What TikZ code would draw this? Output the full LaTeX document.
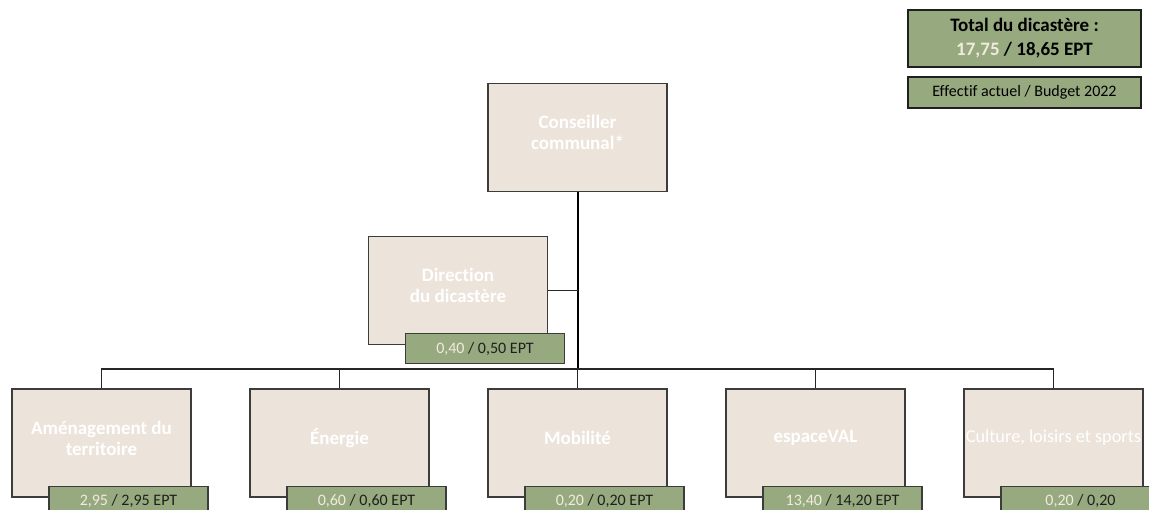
\documentclass[tikz,border=0pt]{standalone}
\usepackage{fontspec}
\setmainfont{Carlito}[Ligatures=NoCommon]
\usetikzlibrary{positioning}
\definecolor{beige}{HTML}{ECE3DA}
\definecolor{eptgreen}{HTML}{97A97E}
\definecolor{cream}{HTML}{F1EBDF}
\definecolor{boxline}{HTML}{3C3C3C}

\begin{document}
\begin{tikzpicture}[
x=1pt,y=-1pt,
unit/.style={
  draw=boxline,
  fill=beige,
  line width=1.2pt,
  minimum width=179pt,
  minimum height=108pt,
  label={[unittext]center:#1}
},
unittext/.style={
  yshift=5pt,
  align=center,
  text=white,
  font=\fontsize{19}{21}\selectfont\bfseries
},
ept/.style={
  draw=boxline,
  fill=eptgreen,
  line width=1.2pt,
  minimum width=159pt,
  minimum height=30pt,
  inner sep=0pt,
  anchor=north,
  text=black!88,
  font=\fontsize{16}{18}\selectfont
},
total/.style={
  draw=black!88,
  fill=eptgreen,
  line width=1.3pt,
  minimum width=233pt,
  minimum height=57pt,
  inner sep=0pt,
  align=center,
  font=\fontsize{19}{24}\selectfont\bfseries
},
link/.style={draw=black!85, line width=1.3pt},
trunk/.style={draw=black, line width=2pt},
node distance=57.8pt
]
\useasboundingbox (0,0) rectangle (1149,510);

% summary top right
\node[total] (total) at (1024.5,38.5)
  {Total du dicastère :\\{\color{cream}17,75} / 18,65 EPT};
\node[total,minimum height=31pt,font=\fontsize{16}{18}\selectfont] (legend) at (1024.5,92.5)
  {Effectif actuel / Budget 2022};

% units
\node[unit={Conseiller\\communal*}] (cons) at (577.5,137.5) {};
\node[unit={Direction\\du dicastère}] (dir) at (458,290.5) {};
\node[unit={Mobilité}] (mobil) at (577.5,443) {};
\node[unit={Énergie},left=of mobil] (ener) {};
\node[unit={Aménagement du\\territoire},left=of ener] (amen) {};
\node[unit={espaceVAL},right=of mobil] (espace) {};
\node[unit={\mdseries\fontsize{18.3}{21}\selectfont Culture, loisirs et sports},right=of espace] (cult) {};

% EPT
\node[ept] (dir-ept) at ([xshift=27pt,yshift=12pt]dir.south)
  {{\color{cream}0,40} / 0,50 EPT};
\node[ept] (amen-ept) at ([xshift=27pt,yshift=12pt]amen.south)
  {{\color{cream}2,95} / 2,95 EPT};
\node[ept] (ener-ept) at ([xshift=27pt,yshift=12pt]ener.south)
  {{\color{cream}0,60} / 0,60 EPT};
\node[ept] (mobil-ept) at ([xshift=27pt,yshift=12pt]mobil.south)
  {{\color{cream}0,20} / 0,20 EPT};
\node[ept] (espace-ept) at ([xshift=27pt,yshift=12pt]espace.south)
  {{\color{cream}13,40} / 14,20 EPT};
\node[ept] (cult-ept) at ([xshift=27pt,yshift=12pt]cult.south)
  {{\color{cream}0,20} / 0,20};

\coordinate (bus) at (577.5,369);

\draw[trunk] (cons.south) -- (cons.south |- bus);
\draw[link] (dir.east) -- (dir.east -| cons.south);
\draw[link] (amen.north) -- (amen.north |- bus) -- (cult.north |- bus) -- (cult.north);
\draw[link] (ener.north) -- (ener.north |- bus);
\draw[link] (mobil.north) -- (mobil.north |- bus);
\draw[link] (espace.north) -- (espace.north |- bus);
\end{tikzpicture}
\end{document}
